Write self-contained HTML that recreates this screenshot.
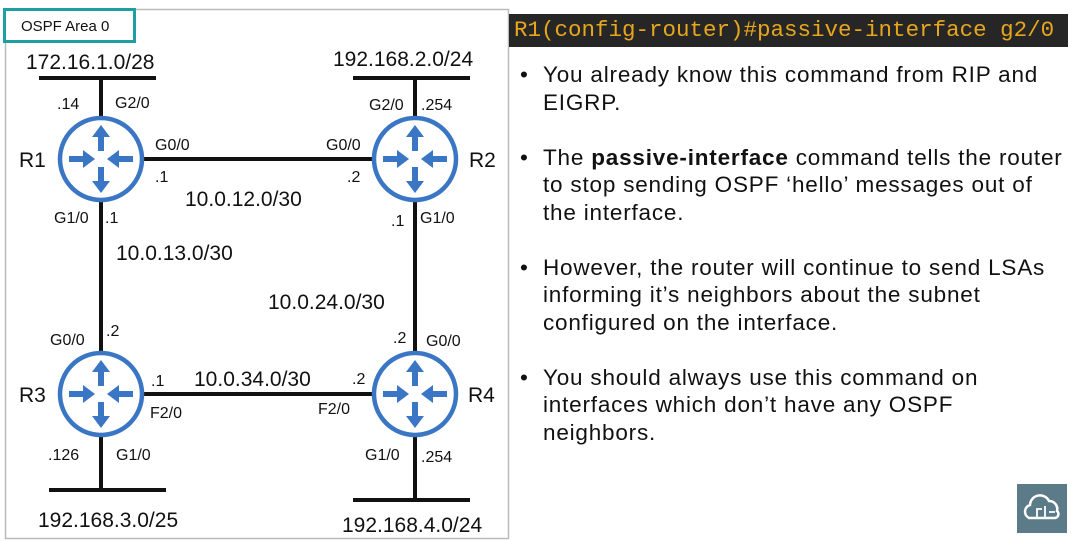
<!DOCTYPE html>
<html><head><meta charset="utf-8"><style>
body{margin:0;width:1081px;height:541px;background:#fff;overflow:hidden;position:relative;font-family:"Liberation Sans",sans-serif}
.cmd{position:absolute;left:509px;top:14px;width:559px;height:33px;background:#262626;color:#e8a61c;font-family:"Liberation Mono",monospace;font-size:22.5px;line-height:33px;padding-left:5px;box-sizing:border-box;white-space:nowrap}
ul{position:absolute;left:520px;top:61px;margin:0;padding:0;list-style:none;font-size:22.5px;letter-spacing:0.8px;color:#111;line-height:27.5px;width:552px}
li{position:relative;padding-left:23px;margin-bottom:27.5px}
li:before{content:"•";position:absolute;left:0;top:0}
.logo{position:absolute;left:1017px;top:484px;width:50px;height:49px;background:#5b7b88}
</style></head><body>
<svg width="1081" height="541" style="position:absolute;left:0;top:0" font-family="Liberation Sans, sans-serif" fill="#111">
<defs>
<g id="rt">
<circle r="41" fill="#fff" stroke="#3a76c4" stroke-width="4.5"/>
<g fill="#3a76c4" stroke="#3a76c4">
<line x1="0" y1="-8" x2="0" y2="-24" stroke-width="6"/><polygon points="0,-34 -9,-22 9,-22" stroke="none"/>
<line x1="0" y1="8" x2="0" y2="24" stroke-width="6"/><polygon points="0,34 -9,22 9,22" stroke="none"/>
<line x1="-32" y1="0" x2="-16" y2="0" stroke-width="6"/><polygon points="-6,0 -18,-9 -18,9" stroke="none"/>
<line x1="32" y1="0" x2="16" y2="0" stroke-width="6"/><polygon points="6,0 18,-9 18,9" stroke="none"/>
</g></g>
</defs>
<rect x="5.5" y="9.5" width="503" height="529" fill="none" stroke="#bbb" stroke-width="1.5"/>
<rect x="4.5" y="9.5" width="130" height="32" fill="#fff" stroke="#1f9ea3" stroke-width="3"/>
<text x="21" y="31" font-size="15">OSPF Area 0</text>
<g stroke="#111" stroke-width="4">
<line x1="39" y1="78" x2="156" y2="78"/><line x1="101" y1="78" x2="101" y2="120"/>
<line x1="353" y1="78" x2="470" y2="78"/><line x1="415" y1="78" x2="415" y2="120"/>
<line x1="140" y1="159" x2="376" y2="159"/>
<line x1="101" y1="200" x2="101" y2="355"/>
<line x1="415" y1="200" x2="415" y2="355"/>
<line x1="140" y1="394" x2="376" y2="394"/>
<line x1="49" y1="490" x2="166" y2="490"/><line x1="101" y1="435" x2="101" y2="490"/>
<line x1="353" y1="500" x2="470" y2="500"/><line x1="415" y1="435" x2="415" y2="500"/>
</g>
<use href="#rt" x="101" y="159"/><use href="#rt" x="415" y="159"/>
<use href="#rt" x="101" y="394"/><use href="#rt" x="415" y="394"/>
<g font-size="21">
<text x="26" y="69">172.16.1.0/28</text><text x="333" y="66">192.168.2.0/24</text>
<text x="19" y="167">R1</text><text x="469" y="167">R2</text>
<text x="19" y="402">R3</text><text x="468" y="402">R4</text>
<text x="185" y="206">10.0.12.0/30</text><text x="116" y="260">10.0.13.0/30</text>
<text x="268" y="309">10.0.24.0/30</text><text x="194" y="386">10.0.34.0/30</text>
<text x="38" y="527">192.168.3.0/25</text><text x="342" y="532">192.168.4.0/24</text>
</g>
<g font-size="16">
<text x="57" y="109">.14</text><text x="115" y="108">G2/0</text>
<text x="369" y="110">G2/0</text><text x="421" y="110">.254</text>
<text x="155" y="150">G0/0</text><text x="155" y="182">.1</text>
<text x="326" y="150">G0/0</text><text x="347" y="182">.2</text>
<text x="54" y="223">G1/0</text><text x="105" y="223">.1</text>
<text x="391" y="226">.1</text><text x="420" y="223">G1/0</text>
<text x="50" y="345">G0/0</text><text x="106" y="336">.2</text>
<text x="393" y="343">.2</text><text x="426" y="346">G0/0</text>
<text x="151" y="386">.1</text><text x="352" y="384">.2</text>
<text x="150" y="418">F2/0</text><text x="318" y="414">F2/0</text>
<text x="48" y="460">.126</text><text x="116" y="460">G1/0</text>
<text x="365" y="460">G1/0</text><text x="421" y="462">.254</text>
</g>
</svg>
<div class="cmd">R1(config-router)#passive-interface g2/0</div>
<ul>
<li>You already know this command from RIP and EIGRP.</li>
<li>The <b>passive-interface</b> command tells the router to stop sending OSPF ‘hello’ messages out of the interface.</li>
<li>However, the router will continue to send LSAs informing it’s neighbors about the subnet configured on the interface.</li>
<li>You should always use this command on interfaces which don’t have any OSPF neighbors.</li>
</ul>
<div class="logo"><svg width="50" height="49"><path d="M12 34 a7 7 0 0 1 1-13 a10 10 0 0 1 19-4 a8 8 0 0 1 8 10 a4 4 0 0 1-2 7z" fill="none" stroke="#fff" stroke-width="2.5"/><path d="M20 34v-9h5M28 34v-12M32 28h6" stroke="#fff" stroke-width="1.8" fill="none"/></svg></div>
</body></html>
